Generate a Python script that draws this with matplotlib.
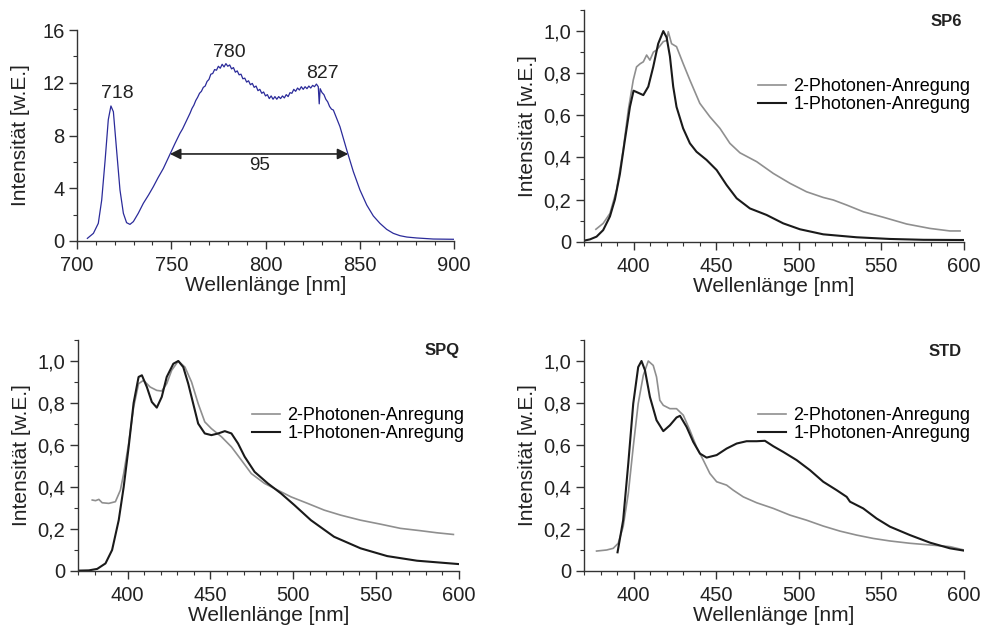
import matplotlib
matplotlib.use("Agg")
import matplotlib.pyplot as plt
from matplotlib.ticker import MultipleLocator, FuncFormatter

plt.rcParams['font.family'] = ['Liberation Sans', 'DejaVu Sans']

# --- laser spectrum (top left) ---
laser_nm = [705.5, 708.7, 711.3, 713.1, 714.9, 716.6, 718.0, 719.3, 721.0, 722.8, 724.6,
            726.3, 728.1, 729.9, 732.5, 735.2, 738.0, 740.5, 743.0, 745.8, 749.3, 752.0, 754.6,
            756, 757, 758, 759, 760, 761, 762, 763, 764, 765, 766, 767, 768, 769, 770,
            771, 772, 773, 774, 775, 776, 777, 778, 779, 780, 781, 782, 783, 784, 785,
            786, 787, 788, 789, 790, 791, 792, 793, 794, 795, 796, 797, 798, 799, 800,
            801, 802, 803, 804, 805, 806, 807, 808, 809, 810, 811, 812, 813, 814, 815,
            816, 817, 818, 819, 820, 821, 822, 823, 824, 825, 826, 827, 828, 828.5, 829,
            830, 831, 832, 833, 834, 835, 836.0, 839.5, 843.1, 846.6, 850.1, 853.7,
            857.2, 860.7, 864.3, 867.8, 871.4, 875.0, 880.2, 889.0, 900.0]
laser_int = [0.2, 0.58, 1.34, 3.1, 6.1, 9.2, 10.24, 9.8, 6.9, 3.87, 2.1,
             1.39, 1.26, 1.47, 2.1, 2.86, 3.5, 4.12, 4.8, 5.5, 6.57, 7.4, 8.16,
             8.5, 8.8, 9.1, 9.4, 9.7, 10.05, 10.3, 10.65, 10.9, 11.2, 11.35, 11.65, 11.75, 12.1, 12.25,
             12.65, 12.7, 13.0, 12.95, 13.25, 13.1, 13.4, 13.2, 13.45, 13.25, 13.35, 13.05, 13.15, 12.8, 12.9,
             12.6, 12.65, 12.3, 12.35, 12.05, 12.15, 11.85, 11.95, 11.65, 11.75, 11.4, 11.5, 11.2, 11.3, 11.0,
             11.1, 10.8, 11.0, 10.75, 10.95, 10.75, 10.95, 10.8, 11.0, 10.85, 11.1, 10.95, 11.25, 11.2, 11.5,
             11.35, 11.6, 11.45, 11.7, 11.5, 11.7, 11.55, 11.75, 11.6, 11.8, 11.7, 11.9, 11.7, 10.4, 11.55,
             11.25, 11.1, 10.75, 10.55, 10.2, 10.0, 9.93, 8.67, 6.9, 5.26, 3.87, 2.73,
             1.9, 1.34, 0.88, 0.58, 0.4, 0.3, 0.23, 0.15, 0.13]

# --- SP6 ---
sp6_1p_nm = [370.1, 373.6, 377.6, 381.6, 385.7, 388.7, 391.7, 394.7, 397.8, 400.0, 402.8,
             405.9, 408.9, 411.9, 414.9, 418.0, 420.0, 422.0, 424.0, 426.0, 430.0, 434.1,
             438.1, 444.2, 450.3, 456.3, 462.4, 470.4, 480.5, 490.6, 500.7, 514.8, 535.0,
             555.2, 575.4, 600.0]
sp6_1p = [0.005, 0.011, 0.024, 0.055, 0.12, 0.2, 0.32, 0.48, 0.64, 0.717, 0.707,
          0.696, 0.736, 0.83, 0.94, 1.0, 0.97, 0.88, 0.736, 0.64, 0.538, 0.467,
          0.427, 0.388, 0.34, 0.269, 0.206, 0.158, 0.127, 0.087, 0.059, 0.035, 0.021,
          0.013, 0.009, 0.008]
sp6_2p_nm = [377.2, 381.6, 385.7, 389.7, 393.7, 396.8, 399.8, 401.8, 404.0, 405.9, 407.9,
             409.9, 412.0, 413.9, 416.0, 418.0, 420.0, 421.0, 423.0, 426.0, 430.0, 434.1,
             440.1, 446.2, 452.3, 458.3, 464.4, 474.5, 484.6, 494.7, 504.7, 514.8, 520.9,
             529.0, 539.1, 551.2, 565.3, 579.4, 591.5, 597.6]
sp6_2p = [0.059, 0.087, 0.134, 0.245, 0.435, 0.625, 0.767, 0.83, 0.845, 0.854, 0.886,
          0.862, 0.9, 0.91, 0.93, 0.95, 0.955, 0.997, 0.94, 0.926, 0.846, 0.767,
          0.657, 0.593, 0.538, 0.467, 0.422, 0.38, 0.324, 0.277, 0.237, 0.21, 0.198,
          0.174, 0.142, 0.116, 0.084, 0.063, 0.051, 0.051]

# --- SPQ ---
spq_1p_nm = [371.2, 376.6, 381.6, 386.6, 390.6, 394.6, 397.6, 400.6, 403.6, 406.6, 408.6,
             411.6, 414.6, 417.6, 420.6, 423.6, 427.6, 430.6, 433.6, 436.6, 439.6, 442.6,
             446.6, 450.6, 454.7, 458.7, 462.7, 466.7, 470.7, 476.7, 484.7, 492.7, 500.7,
             510.7, 524.7, 540.7, 556.8, 574.8, 600.0]
spq_1p = [0.002, 0.003, 0.01, 0.036, 0.1, 0.242, 0.4, 0.59, 0.8, 0.924, 0.932,
          0.876, 0.805, 0.778, 0.829, 0.924, 0.987, 1.0, 0.971, 0.892, 0.797, 0.702,
          0.655, 0.647, 0.655, 0.666, 0.655, 0.607, 0.544, 0.472, 0.417, 0.369, 0.314,
          0.242, 0.163, 0.108, 0.071, 0.049, 0.033]
spq_2p_nm = [378.6, 380.6, 382.6, 384.6, 388.6, 392.6, 395.6, 397.6, 400.6, 403.6, 406.6,
             409.6, 413.6, 417.6, 420.6, 423.6, 426.6, 430.6, 434.6, 438.6, 442.6, 446.6,
             450.6, 456.7, 462.7, 468.7, 474.7, 482.7, 490.7, 498.7, 508.7, 518.7, 528.7,
             540.7, 552.8, 564.8, 576.8, 586.8, 596.8]
spq_2p = [0.338, 0.335, 0.341, 0.325, 0.322, 0.33, 0.385, 0.464, 0.607, 0.78, 0.892,
          0.908, 0.876, 0.86, 0.857, 0.892, 0.956, 1.0, 0.971, 0.9, 0.797, 0.71,
          0.678, 0.639, 0.591, 0.528, 0.464, 0.417, 0.385, 0.353, 0.322, 0.29, 0.266,
          0.242, 0.223, 0.203, 0.192, 0.182, 0.174]

# --- STD ---
std_1p_nm = [390.3, 393.7, 396.8, 399.8, 402.8, 404.8, 406.9, 409.9, 413.9, 418.0, 422.0,
             426.0, 428.1, 432.1, 436.1, 440.2, 444.2, 450.3, 456.3, 462.4, 468.4, 474.5,
             479.5, 484.6, 490.6, 498.7, 506.8, 514.8, 522.9, 529.0, 531.0, 539.0, 547.1,
             555.2, 567.3, 579.4, 591.5, 600.0]
std_1p = [0.089, 0.242, 0.512, 0.797, 0.971, 1.0, 0.956, 0.829, 0.718, 0.666, 0.694,
          0.731, 0.739, 0.686, 0.615, 0.559, 0.54, 0.552, 0.583, 0.607, 0.618, 0.618,
          0.62, 0.594, 0.567, 0.528, 0.48, 0.425, 0.385, 0.353, 0.33, 0.298, 0.25,
          0.211, 0.171, 0.135, 0.108, 0.097]
std_2p_nm = [377.6, 383.7, 387.7, 390.7, 393.7, 396.8, 399.8, 402.8, 405.9, 408.9, 411.9,
             413.9, 415.9, 418.0, 422.0, 426.0, 430.1, 434.1, 438.1, 442.2, 446.2, 450.3,
             456.3, 460.3, 466.4, 474.5, 484.6, 494.7, 504.7, 514.8, 524.9, 535.0, 545.1,
             555.2, 567.3, 579.4, 591.5, 600.0]
std_2p = [0.095, 0.1, 0.108, 0.132, 0.211, 0.369, 0.591, 0.797, 0.932, 1.0, 0.979,
          0.924, 0.813, 0.789, 0.773, 0.773, 0.742, 0.67, 0.591, 0.528, 0.464, 0.425,
          0.409, 0.385, 0.353, 0.325, 0.298, 0.266, 0.242, 0.214, 0.19, 0.171, 0.155,
          0.143, 0.132, 0.124, 0.116, 0.1]

peak_labels = ["718", "780", "827"]
peak_x = [721.5, 781, 830.3]
peak_y = [11.2, 14.3, 12.7]
fwhm = (749.3, 843.9, 6.6)

W, H = 985, 630
fig = plt.figure(figsize=(W / 100, H / 100), dpi=100)

def box(l, r, t, b):
    return [l / W, 1 - b / H, (r - l) / W, (b - t) / H]

def style(ax, wpx, hpx):
    for s in ['top', 'right']:
        ax.spines[s].set_visible(False)
    for s in ['left', 'bottom']:
        ax.spines[s].set_linewidth(1.0)
        ax.spines[s].set_color('#333333')
    ax.tick_params(which='major', direction='out', length=6, width=1, labelsize=14.5,
                   colors='#333333', labelcolor='#222222')
    ax.tick_params(which='minor', direction='out', length=3, width=0.8, colors='#333333')
    ax.tick_params(axis='x', which='major', pad=5)
    ax.tick_params(axis='y', which='major', pad=3)
    ax.set_xlabel("Wellenlänge [nm]", fontsize=15, color='#222222')
    ax.set_ylabel("Intensität [w.E.]", fontsize=15, color='#222222')
    ax.yaxis.set_label_coords(-47 / wpx, 0.5)
    ax.xaxis.set_label_coords(0.5, -35 / hpx)

comma = FuncFormatter(lambda v, p: "0" if abs(v) < 1e-9 else ("%.1f" % v).replace('.', ','))

# top left
ax1 = fig.add_axes(box(77, 454, 30, 241))
ax1.plot(laser_nm, laser_int, color='#2b2b9a', lw=0.9)
ax1.set_xlim(700, 900)
ax1.set_ylim(0, 16)
ax1.xaxis.set_major_locator(MultipleLocator(50))
ax1.xaxis.set_minor_locator(MultipleLocator(10))
ax1.yaxis.set_major_locator(MultipleLocator(4))
ax1.yaxis.set_minor_locator(MultipleLocator(2))
style(ax1, 377, 211)
for t, x, y in zip(peak_labels, peak_x, peak_y):
    ax1.text(x, y, t, ha='center', va='center', fontsize=14, color='#222222')
ax1.annotate("", xy=(fwhm[0], fwhm[2]), xytext=(fwhm[1], fwhm[2]),
             arrowprops=dict(arrowstyle='<|-|>', color='#222222', lw=1.2,
                             mutation_scale=16, shrinkA=0, shrinkB=0))
ax1.text((fwhm[0] + fwhm[1]) / 2, fwhm[2] - 0.85, "95", ha='center', va='center',
         fontsize=13.5, color='#222222')

panels = [
    (box(584, 964, 10, 241.7), "SP6", sp6_2p_nm, sp6_2p, sp6_1p_nm, sp6_1p, (758, 78), (962, 21.7)),
    (box(78, 458.7, 340, 571), "SPQ", spq_2p_nm, spq_2p, spq_1p_nm, spq_1p, (252, 407), (460, 350.7)),
    (box(584, 964, 340, 571), "STD", std_2p_nm, std_2p, std_1p_nm, std_1p, (758, 407), (962, 351)),
]
for rect, name, x2, y2, x1, y1, leg, lab in panels:
    ax = fig.add_axes(rect)
    ax.plot(x2, y2, color='#8f8f8f', lw=1.2, label="2-Photonen-Anregung")
    ax.plot(x1, y1, color='#1a1a1a', lw=1.5, label="1-Photonen-Anregung")
    ax.set_xlim(370, 600)
    ax.set_ylim(0, 1.1)
    ax.xaxis.set_major_locator(MultipleLocator(50))
    ax.xaxis.set_minor_locator(MultipleLocator(10))
    ax.yaxis.set_major_locator(MultipleLocator(0.2))
    ax.yaxis.set_minor_locator(MultipleLocator(0.1))
    ax.yaxis.set_major_formatter(comma)
    style(ax, rect[2] * W, rect[3] * H)
    ax.legend(loc='upper left', bbox_to_anchor=(leg[0] / W, 1 - leg[1] / H),
              bbox_transform=fig.transFigure, frameon=False, fontsize=13,
              handlelength=1.55, handletextpad=0.4, labelspacing=0.05, borderpad=0,
              borderaxespad=0)
    fig.text(lab[0] / W, 1 - lab[1] / H, name, ha='right', va='center',
             fontsize=12, fontweight='bold', color='#222222')

fig.savefig("out.png", dpi=100)
